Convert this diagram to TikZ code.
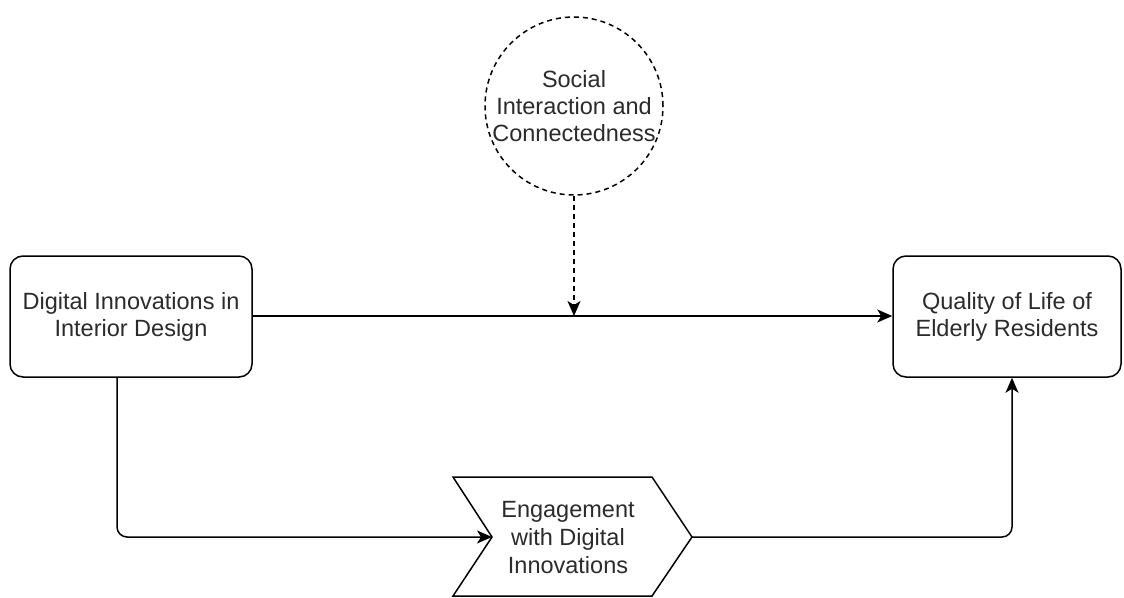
\documentclass[tikz,border=0pt]{standalone}
\usepackage{fontspec}
\setmainfont{Liberation Sans}
\usetikzlibrary{arrows.meta,calc}
\definecolor{txt}{HTML}{2B2B2B}
\tikzset{
  conn/.style={line width=1.5pt, draw=black, -{Stealth[length=15pt,width=13pt,inset=4pt]}},
  roundbox/.style={draw=black, line width=1.5pt, rounded corners=13pt, fill=white, align=center,
    text=txt, font=\fontsize{23.5}{27}\selectfont, inner sep=0pt},
  dashcirc/.style={draw=black, line width=1.5pt, circle, dash pattern=on 5pt off 4pt, align=center,
    text=txt, font=\fontsize{23.5}{27}\selectfont, inner sep=0pt, minimum size=178pt},
  chev/.style={draw=black, line width=1.5pt, fill=white},
  lbl/.style={align=center, text=txt, font=\fontsize{23.5}{28}\selectfont, inner sep=0pt}
}
\begin{document}
\begin{tikzpicture}[x=1pt,y=-1pt]
\useasboundingbox[fill=white] (0,0) rectangle (1124,597);
% boxes
\node[roundbox, minimum width=242pt, minimum height=121pt] (din) at (131,316.5)
  {Digital Innovations in\\Interior Design};
\node[roundbox, minimum width=228pt, minimum height=121pt] (qol) at (1007,316.5)
  {Quality of Life of\\Elderly Residents};
\node[dashcirc] (soc) at (574,106) {Social\\Interaction and\\Connectedness};
% chevron
\coordinate (cTL) at (453,477);
\coordinate (cTR) at (652,477);
\coordinate (tip) at (692,537);
\coordinate (cBR) at (652,596);
\coordinate (cBL) at (453,596);
\coordinate (notch) at (492,537);
\draw[chev] (cTL) -- (cTR) -- (tip) -- (cBR) -- (cBL) -- (notch) -- cycle;
\node[lbl] (eng) at (568,538) {Engagement\\with Digital\\Innovations};
% connectors
\draw[conn] (din.east |- 0,316) -- (qol.west |- 0,316);
\coordinate (dashend) at (soc.south |- 0,316);
\draw[conn, dash pattern=on 5pt off 4pt] (soc.south) -- (dashend);
\draw[conn, rounded corners=10pt] ([xshift=-14pt]din.south) |- (notch);
\draw[conn, rounded corners=10pt] (tip) -| ([xshift=5pt]qol.south);
\end{tikzpicture}
\end{document}
